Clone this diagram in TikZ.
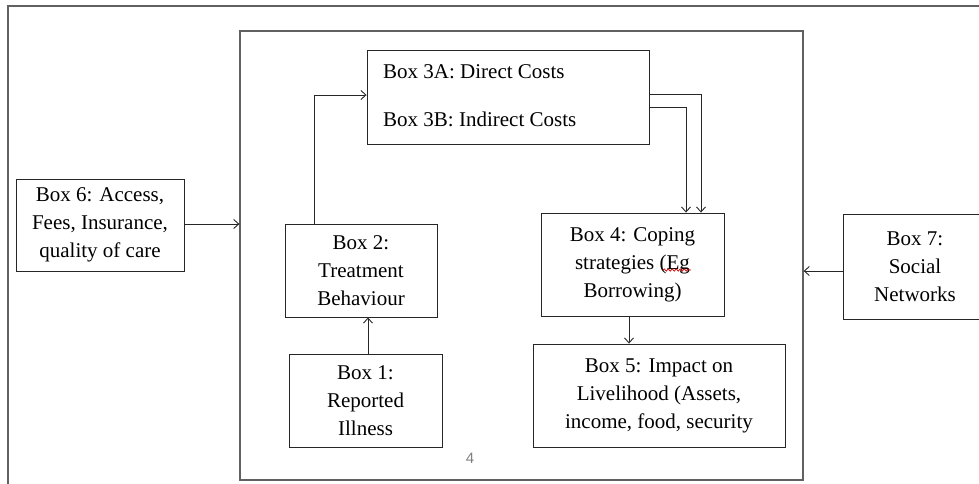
\documentclass[tikz,border=0pt]{standalone}
\usepackage{fontspec}
\setmainfont{Liberation Serif}
\newfontfamily\pagenumfont{Liberation Sans}
\usetikzlibrary{arrows.meta,decorations.pathmorphing}
\tikzset{
  box/.style={draw=black!85, line width=0.9pt, inner sep=0pt, align=center,
    font=\fontsize{21}{28}\selectfont},
  boxtext/.style={inner sep=0pt, font=\fontsize{21}{28}\selectfont},
  arr/.style={-{Straight Barb[length=5pt,width=9pt]}, line width=0.9pt, draw=black!85},
  frameline/.style={draw=black!62, line width=1.3pt, inner sep=0pt},
  squiggle/.style={draw=red!85!black, line width=0.7pt, decorate,
    decoration={snake, amplitude=1.2pt, segment length=4pt}}
}
\begin{document}
\begin{tikzpicture}[x=1pt,y=-1pt]
\useasboundingbox (0,0) rectangle (979,483);
\clip (0,0) rectangle (979,483);
% frames
\node[frameline, minimum width=992pt, minimum height=514pt] (outer) at (504,263) {};
\node[frameline, minimum width=563pt, minimum height=449pt] (frame) at (521.5,255.5) {};
% boxes
\node[box, minimum width=153pt, minimum height=93pt] (b1) at (365.5,400.5) {Box 1:\\Reported\\Illness};
\node[box, minimum width=152pt, minimum height=93pt] (b2) at (361,270.5) {Box 2:\\Treatment\\Behaviour};
\node[box, minimum width=282pt, minimum height=94pt] (b3) at (508,97) {};
\node[boxtext, anchor=base west] (t3a) at (383,78) {Box 3A: Direct Costs};
\node[boxtext, anchor=base west] (t3b) at (383,126) {Box 3B: Indirect Costs};
\node[box, minimum width=183pt, minimum height=103pt] (b4) at (632.5,264.5) {Box 4: Coping\\strategies (Eg\\Borrowing)};
\node[box, minimum width=252pt, minimum height=103pt] (b5) at (659,395.5) {Box 5: Impact on\\Livelihood (Assets,\\income, food, security};
\node[box, minimum width=168pt, minimum height=92pt] (b6) at (100,225) {Box 6: Access,\\Fees, Insurance,\\quality of care};
\node[box, minimum width=144pt, minimum height=105pt] (b7) at (915,266.5) {Box 7:\\Social\\Networks};
\node[text=black!50, inner sep=0pt, font=\pagenumfont\fontsize{15}{18}\selectfont] (pg) at (470,458) {4};
% spell-check mark under "Eg"
\coordinate (sqa) at (663,270);
\coordinate (sqb) at (691,270);
\draw[squiggle] (sqa) -- (sqb);
% connectors
\draw[arr] ([xshift=2.5pt]b1.north) -- ([xshift=2.5pt]b1.north |- b2.south);
\draw[arr] ([xshift=-47pt]b2.north) |- ([yshift=2pt]b3.west);
\draw[arr] ([yshift=3pt]b3.east) -| ([xshift=68.5pt]b4.north);
\draw[arr] ([yshift=-10pt]b3.east) -| ([xshift=53.5pt]b4.north);
\draw[arr] ([xshift=-3.5pt]b4.south) -- ([xshift=-3.5pt]b4.south |- b5.north);
\draw[arr] ([yshift=1pt]b6.east) -- ([yshift=1pt]b6.east -| frame.west);
\draw[arr] ([yshift=-4.5pt]b7.west) -- ([yshift=-4.5pt]b7.west -| frame.east);
\end{tikzpicture}
\end{document}
